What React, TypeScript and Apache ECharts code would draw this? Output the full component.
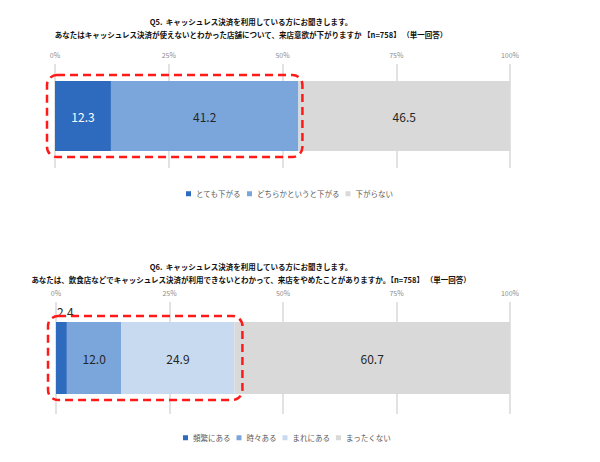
import React, { useEffect, useRef } from "react";
import * as echarts from "echarts";

// Q5: willingness to visit a shop that doesn't accept cashless
const q5Names = ["とても下がる", "どちらかというと下がる", "下がらない"];
const q5Values = [12.3, 41.2, 46.5];

// Q6: stopped visiting a restaurant because cashless wasn't available
const q6Names = ["頻繁にある", "時々ある", "まれにある", "まったくない"];
const q6Values = [2.4, 12.0, 24.9, 60.7];

const axisTicks = [0, 25, 50, 75, 100];

const q5Title = "Q5.  キャッシュレス決済を利用している方にお聞きします。";
const q5Sub = "あなたはキャッシュレス決済が使えないとわかった店舗について、来店意欲が下がりますか 【n=758】 （単一回答）";
const q6Title = "Q6.  キャッシュレス決済を利用している方にお聞きします。";
const q6Sub = "あなたは、飲食店などでキャッシュレス決済が利用できないとわかって、来店をやめたことがありますか。【n=758】 （単一回答）";

const q5Colors = ["#2E6BBE", "#7BA6DC", "#D9D9D9"];
const q6Colors = ["#2E6BBE", "#7BA6DC", "#C8DAF0", "#D9D9D9"];

const FONT = '"Noto Sans CJK JP", "Noto Sans", sans-serif';

export default function App() {
  const ref = useRef<HTMLDivElement | null>(null);

  useEffect(() => {
    document.body.style.margin = "0";
    const chart = echarts.init(ref.current!, null, { renderer: "svg" });

    const titleStyle = { fontSize: 7.5, fontWeight: "bold" as const, color: "#111", fontFamily: FONT };

    const xAxisBase = (gridIndex: number) => ({
      type: "value",
      gridIndex,
      position: "top",
      min: axisTicks[0],
      max: axisTicks[axisTicks.length - 1],
      interval: axisTicks[1] - axisTicks[0],
      axisLine: { show: false },
      axisTick: { show: false },
      axisLabel: { formatter: "{value}%", fontSize: 7, color: "#8c8c8c", margin: 6, fontFamily: FONT },
      splitLine: { lineStyle: { color: "#d9d9d9", width: 1.5 } },
    });

    const yAxisBase = (gridIndex: number) => ({
      type: "category",
      gridIndex,
      data: [""],
      axisLine: { show: false },
      axisTick: { show: false },
      axisLabel: { show: false },
    });

    const q5Series = q5Names.map((name, i) => ({
      name,
      type: "bar",
      stack: "q5",
      xAxisIndex: 0,
      yAxisIndex: 0,
      barWidth: 70,
      data: [q5Values[i]],
      itemStyle: { color: q5Colors[i] },
      label: {
        show: true,
        position: "inside",
        fontSize: 12,
        fontFamily: FONT,
        color: i === 0 ? "#ffffff" : "#262626",
        formatter: (p: any) => Number(p.value).toFixed(1),
      },
    }));

    const q6Series = q6Names.map((name, i) => ({
      name,
      type: "bar",
      stack: "q6",
      xAxisIndex: 1,
      yAxisIndex: 1,
      barWidth: 72,
      data: [q6Values[i]],
      itemStyle: { color: q6Colors[i] },
      label: {
        show: true,
        position: i === 0 ? [1, -17] : "inside",
        fontSize: 12,
        fontFamily: FONT,
        color: "#262626",
        formatter: (p: any) => Number(p.value).toFixed(1),
      },
    }));

    const legendBase = {
      itemWidth: 5,
      itemHeight: 5,
      itemGap: 6,
      icon: "rect",
      textStyle: { fontSize: 7.5, color: "#595959", fontFamily: FONT },
    };

    chart.setOption({
      animation: false,
      backgroundColor: "#ffffff",
      textStyle: { fontFamily: FONT },
      title: [
        {
          text: q5Title,
          subtext: q5Sub,
          left: 246,
          top: 13,
          textAlign: "center",
          itemGap: 5,
          textStyle: titleStyle,
          subtextStyle: titleStyle,
        },
        {
          text: q6Title,
          subtext: q6Sub,
          left: 246,
          top: 258,
          textAlign: "center",
          itemGap: 5,
          textStyle: titleStyle,
          subtextStyle: titleStyle,
        },
      ],
      legend: [
        { ...legendBase, data: q5Names, left: 181, top: 185 },
        { ...legendBase, data: q6Names, left: 178, top: 429 },
      ],
      grid: [
        { left: 55, right: 90, top: 64, height: 104 },
        { left: 56, right: 90, top: 302, height: 112 },
      ],
      xAxis: [xAxisBase(0), xAxisBase(1)],
      yAxis: [yAxisBase(0), yAxisBase(1)],
      series: [...q5Series, ...q6Series],
    });

    // red dashed highlight boxes around the "affected" share of each bar
    const box = (gridIndex: number, upTo: number, barWidth: number, padR: number) => {
      const [x0, yc] = chart.convertToPixel({ gridIndex }, [0, 0]) as number[];
      const [x1] = chart.convertToPixel({ gridIndex }, [upTo, 0]) as number[];
      const left = x0 - 8;
      const top = yc - barWidth / 2 - 6;
      return {
        type: "rect",
        z: 100,
        shape: { x: left, y: top, width: x1 + padR - left, height: barWidth + 12, r: 10 },
        style: { fill: "none", stroke: "#ff1a1a", lineWidth: 2.5, lineDash: [8, 5] },
        silent: true,
      };
    };
    const q5Upto = q5Values[0] + q5Values[1];
    const q6Upto = q6Values[0] + q6Values[1] + q6Values[2];
    chart.setOption({
      graphic: [box(0, q5Upto, 70, 4), box(1, q6Upto, 72, 8)],
    });

    return () => chart.dispose();
  }, []);

  return <div ref={ref} style={{ width: 600, height: 462 }} />;
}
